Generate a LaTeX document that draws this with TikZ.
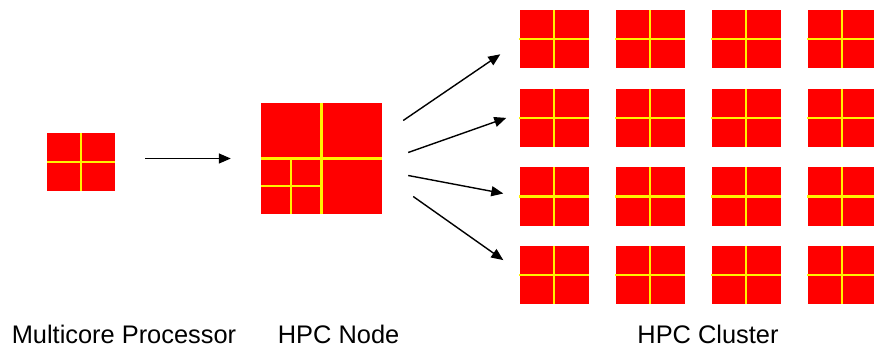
\documentclass[tikz,border=0pt]{standalone}
\usepackage{fontspec}
\setmainfont{Liberation Sans}
\usetikzlibrary{positioning, arrows.meta, calc}

\tikzset{
    core/.style={fill=red, draw=none, inner sep=0pt},
    cpu/.style={core, minimum width=69pt, minimum height=58pt},
    bus/.style={draw=yellow, line width=2.3pt},
    link/.style={-{Triangle[length=12pt, width=10pt]}, line width=1.4pt},
    caption/.style={font=\fontsize{25.4}{30}\selectfont, anchor=base, inner sep=0pt},
}

\begin{document}
\begin{tikzpicture}[x=1pt, y=-1pt]
    \useasboundingbox (0,0) rectangle (874,347);

    % multicore processor
    \node[core, minimum width=68pt, minimum height=58pt] (mc) at (81,162) {};
    \draw[bus] (mc.north) -- (mc.south) (mc.west) -- (mc.east);

    % hpc node
    \node[core, minimum width=121pt, minimum height=111pt] (hn) at (321.5,158.5) {};
    \draw[bus] (hn.north) -- (hn.south) (hn.west) -- (hn.east);
    \draw[bus] ($(hn.south west)!.5!(hn.south)$) -- ($(hn.west)!.5!(hn.center)$);
    \draw[bus] ($(hn.west)!.5!(hn.south west)$) -- ($(hn.center)!.5!(hn.south)$);

    % hpc cluster
    \foreach \r in {1,...,4} {
        \foreach \c in {1,...,4} {
            \node[cpu] (c\r\c) at ({554+96*(\c-1)}, {39.3+78.6*(\r-1)}) {};
            \draw[bus] (c\r\c.north) -- (c\r\c.south) (c\r\c.west) -- (c\r\c.east);
        }
    }

    \draw[link, shorten <=30pt, shorten >=30pt] (mc.east |- hn.west) -- (hn.west);

    \coordinate (s1) at ($(hn.east)+(21,-38)$);
    \coordinate (s2) at ($(hn.east)+(26,-6)$);
    \coordinate (s3) at ($(hn.east)+(26,17)$);
    \coordinate (s4) at ($(hn.east)+(31,38)$);
    \draw[link] (s1) -- ($(c11.west)+(-19,15)$);
    \draw[link] (s2) -- ($(c21.west)+(-13,0)$);
    \draw[link] (s3) -- ($(c31.west)+(-16,-3)$);
    \draw[link] (s4) -- ($(c41.west)+(-16,-15)$);

    \node[caption] (lmc) at (124,343.5) {Multicore Processor};
    \node[caption] (lhn) at (338.6,343.5) {HPC Node};
    \node[caption] (lhc) at (708,343.5) {HPC Cluster};
\end{tikzpicture}
\end{document}
